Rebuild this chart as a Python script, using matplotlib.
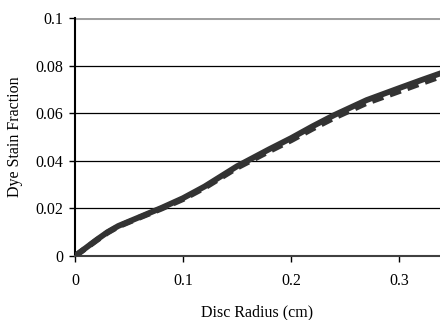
import matplotlib.pyplot as plt

# данные
radius = [0, 0.01, 0.02, 0.03, 0.04, 0.05, 0.06, 0.08, 0.1, 0.12, 0.15, 0.18, 0.2, 0.22, 0.24, 0.27, 0.3, 0.32, 0.34]
stain_solid = [0, 0.0034, 0.0068, 0.0100, 0.0126, 0.0145, 0.0164, 0.0202, 0.0243, 0.0292, 0.0377, 0.0449, 0.0495, 0.0545, 0.0592, 0.0655, 0.0705, 0.0738, 0.0770]
stain_dashed = [0, 0.0033, 0.0066, 0.0098, 0.0124, 0.0143, 0.0162, 0.0199, 0.0239, 0.0287, 0.0371, 0.0441, 0.0486, 0.0535, 0.0581, 0.0643, 0.0692, 0.0725, 0.0757]
x_ticks = [0, 0.1, 0.2, 0.3]
y_ticks = [0, 0.02, 0.04, 0.06, 0.08, 0.1]

plt.rcParams['font.family'] = ['Liberation Serif', 'DejaVu Serif']

fig = plt.figure(figsize=(4.4, 3.2), dpi=100)
ax = fig.add_axes([0.1705, 0.2, 0.8295, 0.74375])

for y in y_ticks[1:-1]:
    ax.axhline(y, color='black', lw=0.9, zorder=1)
ax.axhline(0.1, color='#a0a0a0', lw=2.2, zorder=1)

ax.plot(radius, stain_dashed, color='#333333', lw=4.2, ls=(0, (2.0, 1.2)), zorder=2)
ax.plot(radius, stain_solid, color='#333333', lw=4.2, zorder=3, solid_joinstyle='round')

ax.set_xlim(0, 0.338)
ax.set_ylim(0, 0.1)
ax.set_xticks(x_ticks)
ax.set_xticklabels(['0', '0.1', '0.2', '0.3'])
ax.set_yticks(y_ticks)
ax.set_yticklabels(['0', '0.02', '0.04', '0.06', '0.08', '0.1'])
ax.tick_params(labelsize=11.5, length=4.5, width=1, colors='black')
ax.tick_params(axis='x', pad=8)
ax.tick_params(axis='y', pad=4)

for s in ['top', 'right']:
    ax.spines[s].set_visible(False)
ax.spines['left'].set_linewidth(1.5)
ax.spines['bottom'].set_linewidth(1.5)
ax.spines['bottom'].set_color('#404040')

ax.set_xlabel('Disc Radius (cm)', fontsize=11.5, labelpad=11)
ax.set_ylabel('Dye Stain Fraction', fontsize=11.5, labelpad=9)

fig.savefig('out.png', dpi=100)
